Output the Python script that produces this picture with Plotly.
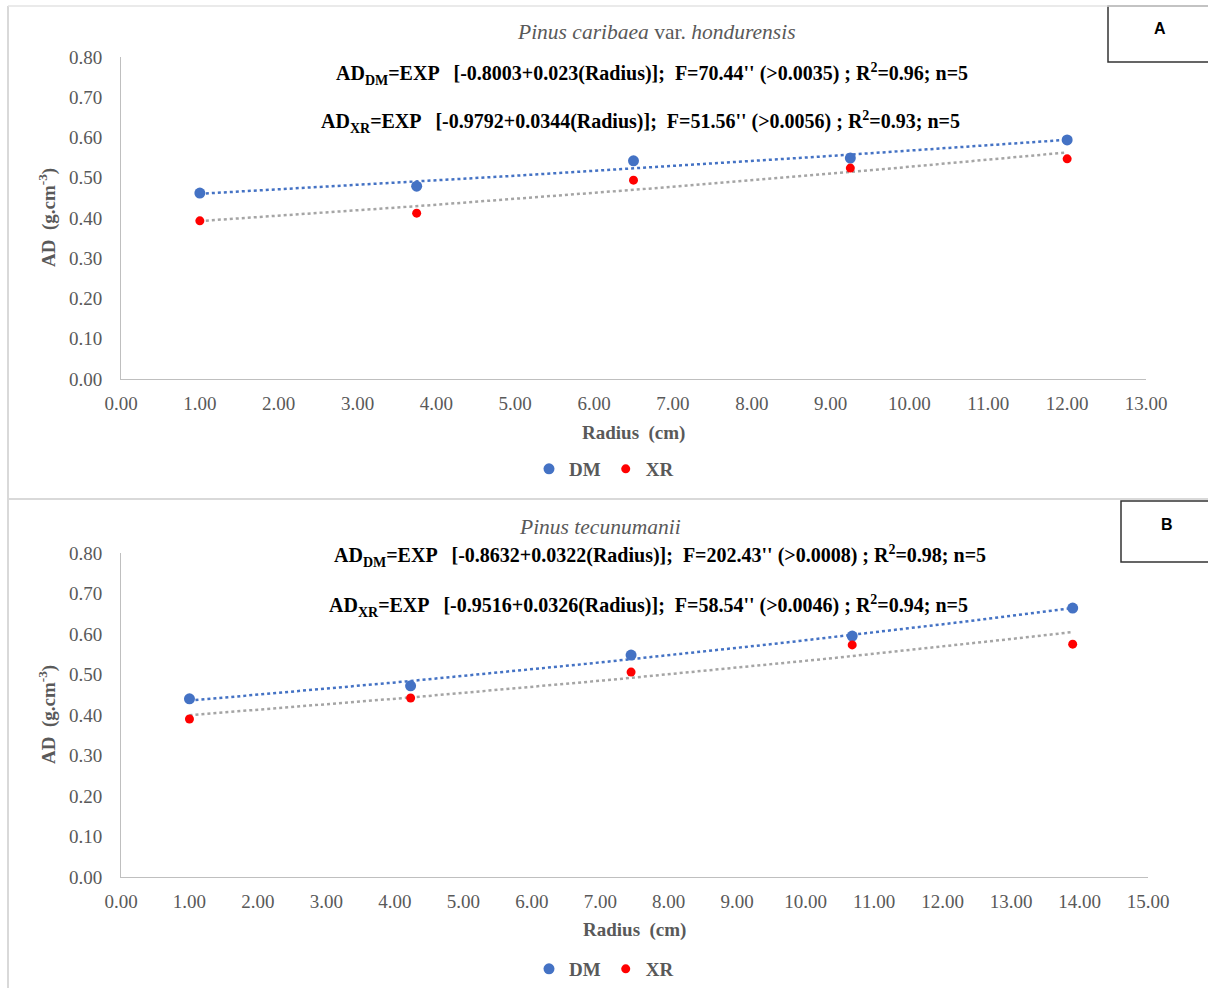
import numpy as np
import plotly.graph_objects as go

FW, FH = 1208, 988
OFF = 0

# ---- data ----
radius_a = [1.00, 3.75, 6.50, 9.25, 12.00]
dm_a = [0.462, 0.479, 0.542, 0.549, 0.594]
xr_a = [0.393, 0.412, 0.494, 0.524, 0.547]

radius_b = [1.00, 4.23, 7.45, 10.68, 13.90]
dm_b = [0.440, 0.472, 0.548, 0.595, 0.664]
xr_b = [0.390, 0.442, 0.506, 0.573, 0.575]

y_ticks = [0.0, 0.1, 0.2, 0.3, 0.4, 0.5, 0.6, 0.7, 0.8]

BLUE = "#4472C4"
RED = "#FF0000"
GRAY_LINE = "#A5A5A5"
TXT = "#595959"
FONT = "Liberation Serif"


def px_x(p):
    return (p - OFF) / FW


def px_y(p):
    return 1 - (p - OFF) / FH


def exp_fit(x, y):
    b, a = np.polyfit(np.array(x), np.log(np.array(y)), 1)
    xs = np.linspace(min(x), max(x), 50)
    return xs, np.exp(a + b * xs)


fig = go.Figure()


def add_panel(x, dm, xr, xa, ya, legend):
    for yy, lc in [(dm, BLUE), (xr, GRAY_LINE)]:
        xs, ys = exp_fit(x, yy)
        fig.add_trace(go.Scatter(x=xs, y=ys, mode="lines", xaxis=xa, yaxis=ya,
                                 line=dict(color=lc, width=2.5, dash="dot"),
                                 showlegend=False, hoverinfo="skip"))
    fig.add_trace(go.Scatter(x=x, y=dm, mode="markers", name="<b>DM</b>", xaxis=xa, yaxis=ya,
                             marker=dict(color=BLUE, size=11), legend=legend))
    fig.add_trace(go.Scatter(x=x, y=xr, mode="markers", name="<b>XR</b>", xaxis=xa, yaxis=ya,
                             marker=dict(color=RED, size=9), legend=legend))


add_panel(radius_a, dm_a, xr_a, "x", "y", "legend")
add_panel(radius_b, dm_b, xr_b, "x2", "y2", "legend2")

axis_common = dict(showgrid=False, zeroline=False, showline=True, linecolor="#BFBFBF",
                   linewidth=1, ticks="", automargin=False,
                   tickfont=dict(family=FONT, size=19, color=TXT),
                   tickformat=".2f")
xcommon = dict(ticklabelstandoff=7, **axis_common)
ycommon = dict(ticklabelstandoff=14, **axis_common)

leg_common = dict(orientation="h", x=0.5, xanchor="center", yanchor="middle",
                  font=dict(family=FONT, size=19, color=TXT), itemwidth=30,
                  tracegroupgap=0, bgcolor="rgba(0,0,0,0)")

fig.update_layout(
    width=FW, height=FH,
    margin=dict(l=0, r=0, t=0, b=0),
    paper_bgcolor="white", plot_bgcolor="white",
    xaxis=dict(domain=[px_x(121), px_x(1146)], range=[0, 13], dtick=1, anchor="y", **xcommon),
    yaxis=dict(domain=[px_y(379), px_y(57)], range=[0, 0.8], tickvals=y_ticks, anchor="x",
               **ycommon),
    xaxis2=dict(domain=[px_x(121), px_x(1148)], range=[0, 15], dtick=1, anchor="y2", **xcommon),
    yaxis2=dict(domain=[px_y(877), px_y(553)], range=[0, 0.8], tickvals=y_ticks, anchor="x2",
                **ycommon),
    legend=dict(y=px_y(469), **leg_common),
    legend2=dict(y=px_y(969), **leg_common),
    showlegend=True,
)

ann = []


def txt(text, x, y, size=17, color="black", angle=0, family=FONT):
    ann.append(dict(text=text, x=px_x(x), y=px_y(y), xref="paper", yref="paper",
                    showarrow=False, textangle=angle, xanchor="center", yanchor="middle",
                    font=dict(family=family, size=size, color=color)))


EQ = 20
# panel A texts
txt("<i>Pinus caribaea</i> var. <i>hondurensis</i>", 656, 32, size=21.5, color=TXT)
txt("<b>AD<sub>DM</sub>=EXP   [-0.8003+0.023(Radius)];  F=70.44'' (>0.0035) ; R<sup>2</sup>=0.96; n=5</b>",
    652, 74, size=EQ)
txt("<b>AD<sub>XR</sub>=EXP   [-0.9792+0.0344(Radius)];  F=51.56'' (>0.0056) ; R<sup>2</sup>=0.93; n=5</b>",
    640, 122, size=EQ)
txt("<b>Radius  (cm)</b>", 633, 433, size=19, color=TXT)
txt("<b>AD  (g.cm<sup>-3</sup>)</b>", 47, 218, size=19, color=TXT, angle=-90)

# panel B texts
txt("<i>Pinus tecunumanii</i>", 600, 527, size=21.5, color=TXT)
txt("<b>AD<sub>DM</sub>=EXP   [-0.8632+0.0322(Radius)];  F=202.43'' (>0.0008) ; R<sup>2</sup>=0.98; n=5</b>",
    660, 556, size=EQ)
txt("<b>AD<sub>XR</sub>=EXP   [-0.9516+0.0326(Radius)];  F=58.54'' (>0.0046) ; R<sup>2</sup>=0.94; n=5</b>",
    648, 606, size=EQ)
txt("<b>Radius  (cm)</b>", 634, 930, size=19, color=TXT)
txt("<b>AD  (g.cm<sup>-3</sup>)</b>", 47, 715, size=19, color=TXT, angle=-90)

# panel labels
txt("<b>A</b>", 1160, 28, size=16, color="black", family="Liberation Sans")
txt("<b>B</b>", 1167, 524, size=16, color="black", family="Liberation Sans")

fig.update_layout(annotations=ann)

P = dict(xref="paper", yref="paper")
shapes = [
    dict(type="line", x0=px_x(8), x1=px_x(8), y0=px_y(6), y1=px_y(994),
         line=dict(color="#D9D9D9", width=2), **P),
    dict(type="line", x0=px_x(8), x1=px_x(1208), y0=px_y(6), y1=px_y(6),
         line=dict(color="#E3E3E3", width=1.5), **P),
    dict(type="line", x0=px_x(8), x1=px_x(1208), y0=px_y(499), y1=px_y(499),
         line=dict(color="#D9D9D9", width=2), **P),
    dict(type="rect", x0=px_x(1108), x1=px_x(1212), y0=px_y(62), y1=px_y(6),
         line=dict(color="#333333", width=1.5), fillcolor="white", layer="below", **P),
    dict(type="rect", x0=px_x(1121), x1=px_x(1212), y0=px_y(562), y1=px_y(501),
         line=dict(color="#333333", width=1.5), fillcolor="white", layer="below", **P),
]
fig.update_layout(shapes=shapes)

fig.write_html("out.html")
